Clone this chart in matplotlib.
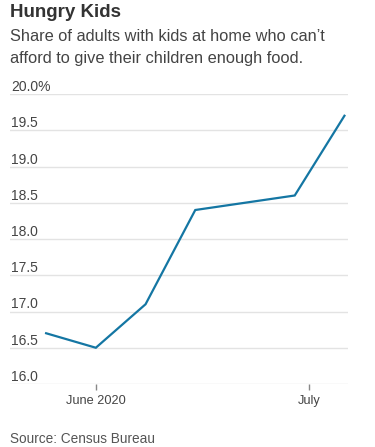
import matplotlib
matplotlib.use("Agg")
import matplotlib.pyplot as plt
import matplotlib.transforms as mtransforms
from datetime import datetime

dates = ["2020-05-25", "2020-06-01", "2020-06-08", "2020-06-15", "2020-06-29", "2020-07-06"]
values = [16.7, 16.5, 17.1, 18.4, 18.6, 19.7]
ytick_values = [16.0, 16.5, 17.0, 17.5, 18.0, 18.5, 19.0, 19.5, 20.0]
ytick_labels = ["16.0", "16.5", "17.0", "17.5", "18.0", "18.5", "19.0", "19.5", "20.0%"]
xtick_dates = ["2020-06-01", "2020-07-01"]
xtick_labels = ["June 2020", "July"]

title = "Hungry Kids"
subtitle_lines = ["Share of adults with kids at home who can\u2019t",
                  "afford to give their children enough food."]
source = "Source: Census Bureau"

plt.rcParams['font.family'] = ['Liberation Sans', 'DejaVu Sans']

W, H = 375, 447
fig = plt.figure(figsize=(W / 100, H / 100), dpi=100)
fig.patch.set_facecolor("white")

left_px, right_px, top_px, bottom_px = 10, 348, 94, 384
ax = fig.add_axes([left_px / W, 1 - bottom_px / H, (right_px - left_px) / W, (bottom_px - top_px) / H])

x = [datetime.strptime(d, "%Y-%m-%d") for d in dates]
ax.plot(x, values, color="#1476a3", lw=1.6, solid_joinstyle="miter", clip_on=False, zorder=3)

ax.set_ylim(16.0, 20.0)
ax.set_xlim(datetime(2020, 5, 19, 22), datetime(2020, 7, 6, 12))

ax.set_yticks(ytick_values)
ax.set_yticklabels(ytick_labels)
ax.tick_params(axis="y", length=0, pad=-1, labelsize=10, labelcolor="#444444")
offset = mtransforms.ScaledTranslation(0, 3 / 100, fig.dpi_scale_trans)
for lbl in ax.get_yticklabels():
    lbl.set_horizontalalignment("left")
    lbl.set_verticalalignment("baseline")
    lbl.set_transform(lbl.get_transform() + offset)

xt = [datetime.strptime(d, "%Y-%m-%d") for d in xtick_dates]
ax.set_xticks(xt)
ax.set_xticklabels(xtick_labels)
ax.tick_params(axis="x", length=4, width=1, color="#888888", pad=4, labelsize=9.2, labelcolor="#444444")

ax.grid(axis="y", color="#e3e3e3", lw=1)
ax.set_axisbelow(True)
for s in ax.spines.values():
    s.set_visible(False)

fig.text(10 / W, 1 - 17 / H, title, fontsize=13.5, fontweight="bold", color="#333333",
         va="baseline", ha="left")
fig.text(10 / W, 1 - 41 / H, subtitle_lines[0], fontsize=11.8, color="#444444", va="baseline", ha="left")
fig.text(10 / W, 1 - 63 / H, subtitle_lines[1], fontsize=11.8, color="#444444", va="baseline", ha="left")
fig.text(10 / W, 1 - 443 / H, source, fontsize=9.8, color="#555555", va="baseline", ha="left")

fig.savefig("out.png", dpi=100)
